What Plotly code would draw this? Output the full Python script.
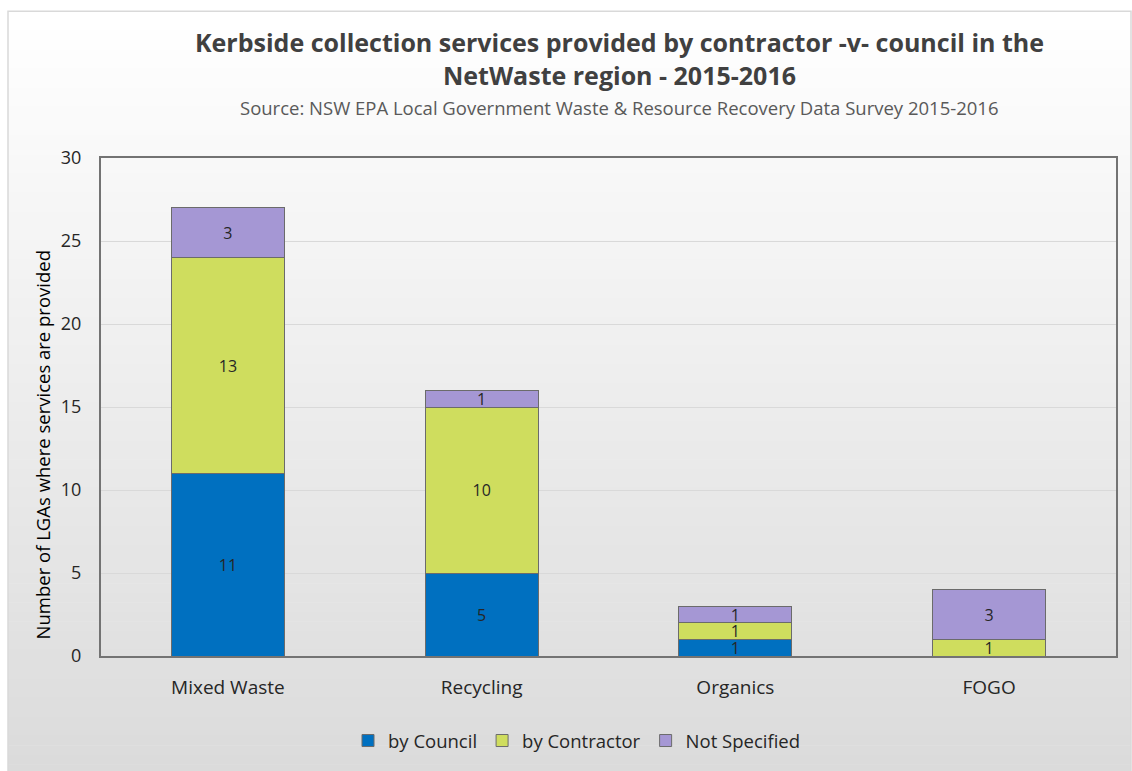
import plotly.graph_objects as go

# Kerbside collection services by provider type, NetWaste region 2015-2016
categories = ["Mixed Waste", "Recycling", "Organics", "FOGO"]
series_names = ["by Council", "by Contractor", "Not Specified"]
by_council = [11, 5, 1, 0]
by_contractor = [13, 10, 1, 1]
not_specified = [3, 1, 1, 3]
series_values = [by_council, by_contractor, not_specified]
series_colors = ["#0070C0", "#CFDD5E", "#A597D4"]
y_ticks = [0, 5, 10, 15, 20, 25, 30]

W, H = 1132, 771
L, R, T, B = 101, 1116, 158, 657  # plot area in pixels

FONT = "Open Sans"

fig = go.Figure()
for name, vals, col in zip(series_names, series_values, series_colors):
    fig.add_trace(go.Bar(
        name=name,
        x=categories,
        y=vals,
        marker=dict(color=col, line=dict(color="#6b6b6b", width=1)),
        text=[str(v) if v else "" for v in vals],
        textposition="inside",
        insidetextanchor="middle",
        textangle=0,
        textfont=dict(family=FONT, size=16, color="#262626"),
        cliponaxis=False,
    ))


def py2paper(py):
    return (B - py) / (B - T)


def px2paper(px):
    return (px - L) / (R - L)


# vertical gradient background (white at top to light grey at bottom)
shapes = []
top_px, bot_px = 11, 775
n = 80
step = (bot_px - top_px) / n
for i in range(n):
    y0 = top_px + i * step
    t = i / (n - 1)
    v = round(255 - t * (255 - 219))
    shapes.append(dict(
        type="rect", xref="paper", yref="paper", layer="below",
        x0=px2paper(8), x1=px2paper(1131),
        y0=py2paper(y0 + step + 0.6), y1=py2paper(y0),
        fillcolor=f"rgb({v},{v},{v})", line=dict(width=0),
    ))
# outer chart frame
shapes.append(dict(
    type="rect", xref="paper", yref="paper", layer="below",
    x0=px2paper(8), x1=px2paper(1131), y0=py2paper(775), y1=py2paper(11),
    fillcolor="rgba(0,0,0,0)", line=dict(color="#d9d9d9", width=1.5),
))

annotations = [
    dict(text="<b>Kerbside collection services provided by contractor -v- council in the</b>",
         x=px2paper(619), y=py2paper(42), xref="paper", yref="paper",
         showarrow=False, xanchor="center", yanchor="middle",
         font=dict(family=FONT, size=25, color="#404040")),
    dict(text="<b>NetWaste region - 2015-2016</b>",
         x=px2paper(619), y=py2paper(75), xref="paper", yref="paper",
         showarrow=False, xanchor="center", yanchor="middle",
         font=dict(family=FONT, size=25, color="#404040")),
    dict(text="Source: NSW EPA Local Government Waste &amp; Resource Recovery Data Survey 2015-2016",
         x=px2paper(619), y=py2paper(107), xref="paper", yref="paper",
         showarrow=False, xanchor="center", yanchor="middle",
         font=dict(family=FONT, size=18.5, color="#595959")),
    # y-axis title
    dict(text="Number of LGAs where services are provided",
         x=px2paper(42), y=py2paper(446), xref="paper", yref="paper",
         showarrow=False, xanchor="center", yanchor="middle", textangle=-90,
         font=dict(family=FONT, size=18.5, color="#000000")),
]

fig.update_layout(
    width=W, height=H,
    margin=dict(l=L, r=W - R, t=T, b=H - B, pad=0),
    barmode="stack",
    bargap=0.555,
    paper_bgcolor="white",
    plot_bgcolor="rgba(0,0,0,0)",
    shapes=shapes,
    annotations=annotations,
    uniformtext=dict(minsize=16, mode="show"),
    font=dict(family=FONT, color="#262626"),
    showlegend=True,
    legend=dict(
        orientation="h", x=px2paper(577), y=py2paper(741),
        xanchor="center", yanchor="middle",
        font=dict(family=FONT, size=18.5, color="#262626"),
        bgcolor="rgba(0,0,0,0)", traceorder="normal",
        itemwidth=30,
    ),
    xaxis=dict(
        showline=True, linecolor="#737373", linewidth=2, mirror=True,
        showgrid=False, ticks="", ticklabelstandoff=13,
        tickfont=dict(family=FONT, size=19, color="#262626"),
    ),
    yaxis=dict(
        range=[0, 30], tickvals=y_ticks,
        showline=True, linecolor="#737373", linewidth=2, mirror=True,
        showgrid=True, gridcolor="#d9d9d9", gridwidth=1, zeroline=False,
        ticks="", ticklabelstandoff=14,
        tickfont=dict(family=FONT, size=18, color="#262626"),
    ),
)

fig.write_html("out.html")
